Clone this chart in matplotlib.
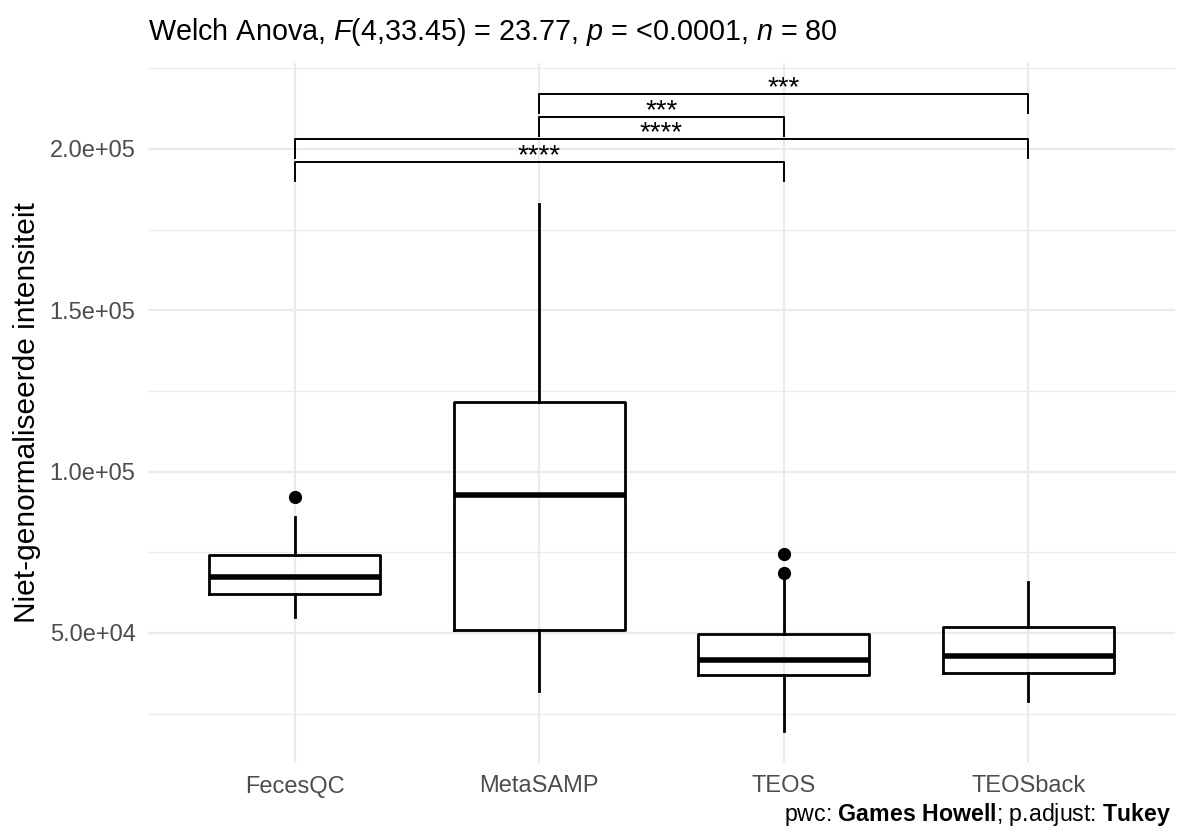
import matplotlib
matplotlib.use("Agg")
import matplotlib.pyplot as plt
from matplotlib.ticker import FuncFormatter

plt.rcParams['font.family'] = ['Liberation Sans', 'DejaVu Sans']
plt.rcParams['mathtext.fontset'] = 'custom'
plt.rcParams['mathtext.rm'] = 'Liberation Sans'
plt.rcParams['mathtext.it'] = 'Liberation Sans:italic'
plt.rcParams['mathtext.bf'] = 'Liberation Sans:bold'

# box statistics
groups = ["FecesQC", "MetaSAMP", "TEOS", "TEOSback"]
whis_lo = [55100, 32100, 19700, 29000]
q1 = [62100, 50900, 37000, 37700]
med = [67400, 92900, 41600, 42900]
q3 = [74200, 121700, 49600, 51800]
whis_hi = [85900, 183000, 67000, 65900]
outliers = [[92200], [], [68600, 74500], []]

# pairwise comparisons (Games Howell)
pair_a = ["MetaSAMP", "MetaSAMP", "FecesQC", "FecesQC"]
pair_b = ["TEOSback", "TEOS", "TEOSback", "TEOS"]
pair_y = [217000, 209900, 203100, 196000]
pair_sig = ["***", "***", "****", "****"]
tip = 5900

fig = plt.figure(figsize=(11.82, 8.32), dpi=100)
ax = fig.add_axes([148/1182, 1 - 763/832, 1027/1182, 700/832])

stats = []
for i, g in enumerate(groups):
    stats.append({'label': g, 'med': med[i], 'q1': q1[i], 'q3': q3[i],
                  'whislo': whis_lo[i], 'whishi': whis_hi[i], 'fliers': outliers[i]})

pos = list(range(1, len(groups) + 1))
ax.bxp(stats, positions=pos, widths=0.7, showcaps=False,
       boxprops=dict(color='black', lw=2.0),
       whiskerprops=dict(color='black', lw=2.0),
       medianprops=dict(color='black', lw=4.0, solid_capstyle='butt'),
       flierprops=dict(marker='o', markerfacecolor='black', markeredgecolor='black', markersize=8.5),
       zorder=3)

# significance brackets
for a, b, y, s in zip(pair_a, pair_b, pair_y, pair_sig):
    xa = groups.index(a) + 1
    xb = groups.index(b) + 1
    ax.plot([xa, xa, xb, xb], [y - tip, y, y, y - tip], color='black', lw=1.4, zorder=4)
    ax.text((xa + xb) / 2, y - 300, s, ha='center', va='baseline', fontsize=20, zorder=4)

ax.set_xlim(0.4, 4.6)
ax.set_ylim(9700, 226650)
ax.set_xticks(pos)
ax.set_xticklabels(groups)
ax.set_yticks([50000, 100000, 150000, 200000])
ax.set_yticks([25000, 75000, 125000, 175000, 225000], minor=True)
ax.yaxis.set_major_formatter(FuncFormatter(lambda v, p: f"{v:.1e}"))

ax.grid(which='major', color='#EBEBEB', lw=1.6)
ax.grid(which='minor', axis='y', color='#EBEBEB', lw=1.0)
ax.set_axisbelow(True)
for sp in ax.spines.values():
    sp.set_visible(False)
ax.tick_params(which='both', length=0)
ax.tick_params(axis='x', labelsize=17, labelcolor='#4D4D4D', pad=9)
ax.tick_params(axis='y', labelsize=17, labelcolor='#4D4D4D', pad=9)

ax.set_ylabel("Niet-genormaliseerde intensiteit", fontsize=21.5)
ax.yaxis.set_label_coords(-0.104, 0.5)

fig.text(148/1182, 1 - 32/832, r"Welch Anova, $\mathit{F}$(4,33.45) = 23.77, $\mathit{p}$ = <0.0001, $\mathit{n}$ = 80",
         ha='left', va='center', fontsize=20.7)
fig.text(1172/1182, 1 - 815/832, r"pwc: $\mathbf{Games\ Howell}$; p.adjust: $\mathbf{Tukey}$",
         ha='right', va='center', fontsize=16.7)

fig.savefig("out.png", dpi=100)
